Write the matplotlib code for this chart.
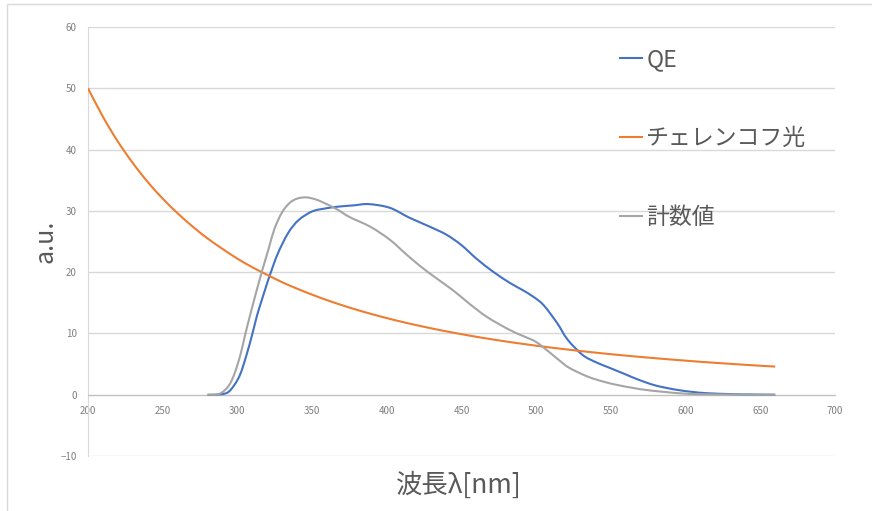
import matplotlib
matplotlib.use("Agg")
import numpy as np
import matplotlib.pyplot as plt
from matplotlib.patches import Rectangle, PathPatch
from matplotlib.path import Path

plt.rcParams['font.family'] = ['Noto Sans CJK JP', 'DejaVu Sans']

# QE (blue)
qe_wl = [280, 285, 293, 298, 302, 306, 310, 313, 316, 319, 322, 327, 334, 341, 350,
         359, 368, 378, 388, 402, 415, 428, 440, 450, 460, 471, 482, 490, 498, 505,
         514, 521, 531, 540, 549, 560, 569, 580, 594, 605, 614, 630, 645, 660]
qe_val = [0.0, 0.0, 0.3, 1.6, 3.4, 6.4, 9.9, 12.8, 15.2, 17.5, 19.7, 23.0, 26.4, 28.5, 29.9,
          30.4, 30.7, 30.9, 31.1, 30.5, 28.9, 27.5, 26.1, 24.4, 22.2, 20.1, 18.3, 17.2, 16.0, 14.6,
          11.7, 9.0, 6.5, 5.3, 4.4, 3.3, 2.4, 1.5, 0.8, 0.45, 0.25, 0.1, 0.03, 0.0]

# チェレンコフ光 (orange)
ch_wl = [200, 210, 220, 230, 240, 250, 260, 270, 280, 290, 300, 310, 320, 330, 340,
         350, 360, 370, 380, 390, 400, 410, 420, 430, 440, 450, 460, 470, 480, 490,
         500, 510, 520, 530, 540, 550, 560, 570, 580, 590, 600, 610, 620, 630, 640,
         650, 660]
ch_val = [50.0, 45.35, 41.3, 37.8, 34.7, 32.0, 29.6, 27.45, 25.5, 23.8, 22.2, 20.8, 19.55,
          18.35, 17.3, 16.33, 15.43, 14.61, 13.85, 13.15, 12.5, 11.9, 11.34, 10.82, 10.33, 9.88,
          9.45, 9.05, 8.68, 8.33, 8.0, 7.69, 7.4, 7.12, 6.86, 6.61, 6.38, 6.16, 5.95, 5.75, 5.56,
          5.37, 5.2, 5.04, 4.88, 4.73, 4.59]

# 計数値 (gray)
ct_wl = [280, 288, 294, 298, 302, 305, 308, 311, 314, 317, 321, 325, 330, 335, 340,
         346, 352, 358, 367, 375, 389, 402, 414, 427, 444, 455, 467, 482, 492, 500,
         509, 516, 522, 534, 544, 554, 565, 576, 598, 620, 660]
ct_val = [0.0, 0.15, 1.4, 3.4, 6.5, 9.6, 12.5, 15.3, 18.0, 20.6, 23.9, 27.2, 29.8, 31.3, 32.0,
          32.2, 31.9, 31.3, 30.2, 29.0, 27.4, 25.3, 22.7, 20.1, 17.1, 14.9, 12.7, 10.6, 9.5, 8.6,
          6.9, 5.5, 4.4, 3.0, 2.2, 1.6, 1.1, 0.7, 0.2, 0.05, 0.0]

x_ticks = [200, 250, 300, 350, 400, 450, 500, 550, 600, 650, 700]
y_ticks = [-10, 0, 10, 20, 30, 40, 50, 60]


# Excelの「平滑線」と同じようにベジェ曲線で点をつなぐ
def smooth_path(xs, ys):
    pts = np.column_stack([xs, ys]).astype(float)
    pad = np.vstack([pts[0], pts, pts[-1]])
    verts = [pts[0]]
    codes = [Path.MOVETO]
    for i in range(len(pts) - 1):
        p0, p1, p2, p3 = pad[i], pad[i + 1], pad[i + 2], pad[i + 3]
        verts += [p1 + (p2 - p0) / 6, p2 - (p3 - p1) / 6, p2]
        codes += [Path.CURVE4] * 3
    return Path(verts, codes)


fig = plt.figure(figsize=(8.72, 5.11), dpi=100)
ax = fig.add_axes([88 / 872, 1 - 456 / 511, (835 - 88) / 872, (456 - 27) / 511])

# 外枠
fig.patches.append(Rectangle((7 / 872, -0.05), 1.0, 1.05 - 4 / 511, transform=fig.transFigure,
                             fill=False, edgecolor='#D9D9D9', linewidth=1.0))

series = [(qe_wl, qe_val, '#4472C4', 'QE'),
          (ch_wl, ch_val, '#ED7D31', 'チェレンコフ光'),
          (ct_wl, ct_val, '#A5A5A5', '計数値')]
for xs, ys, c, name in series:
    ax.add_patch(PathPatch(smooth_path(xs, ys), facecolor='none', edgecolor=c,
                           lw=1.5, zorder=3, joinstyle='round'))
    ax.plot([], [], color=c, lw=1.5, label=name)

ax.set_xlim(200, 700)
ax.set_ylim(-10, 60)
ax.set_xticks(x_ticks)
ax.set_yticks(y_ticks)
ax.grid(axis='y', color='#D9D9D9', lw=1.0)
ax.set_axisbelow(True)

for s in ['top', 'right']:
    ax.spines[s].set_visible(False)
ax.spines['left'].set_color('#D9D9D9')
ax.spines['bottom'].set_position(('data', 0))
ax.spines['bottom'].set_color('#BFBFBF')
ax.tick_params(length=0, labelsize=7, labelcolor='#7F7F7F')
ax.tick_params(axis='x', pad=8)
ax.tick_params(axis='y', pad=8)

ax.set_xlabel('波長λ[nm]', fontsize=19, color='#595959')
ax.xaxis.set_label_coords(0.497, -0.037)
ax.set_ylabel('a.u.', fontsize=18, color='#595959')
ax.yaxis.set_label_coords(-0.040, 0.501)

leg = ax.legend(loc='upper left', bbox_to_anchor=(0.684, 0.998), frameon=False,
                fontsize=16.5, handlelength=1.0, handletextpad=0.17, labelspacing=2.44,
                labelcolor='#595959')

fig.savefig('out.png', dpi=100)
